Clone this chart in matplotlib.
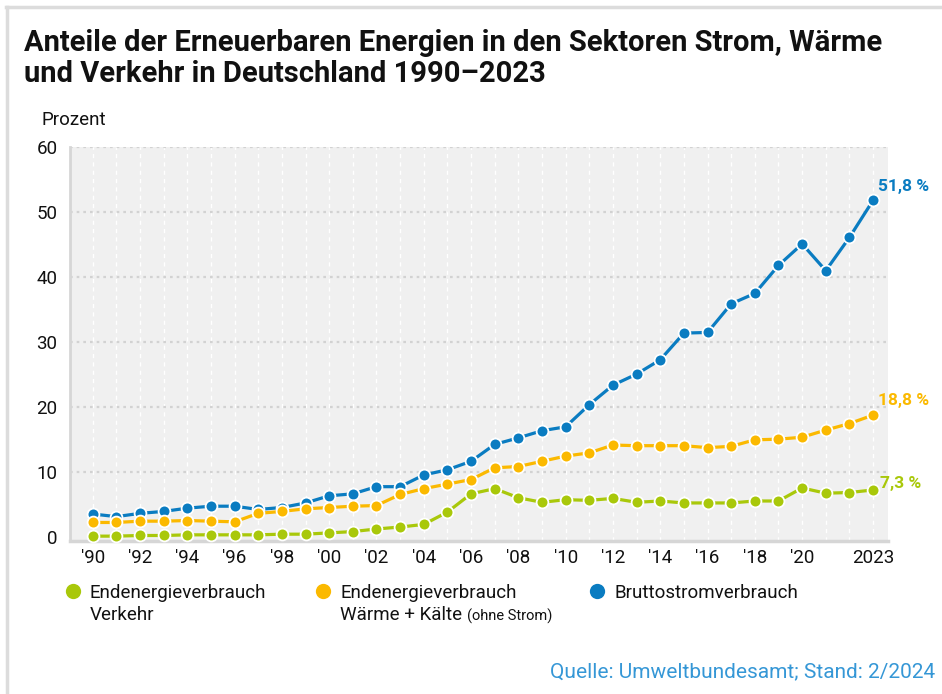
import matplotlib
matplotlib.use('Agg')
import matplotlib.pyplot as plt
from matplotlib.lines import Line2D

plt.rcParams['font.family'] = ['Roboto', 'DejaVu Sans']

# data
years = list(range(1990, 2024))
strom = [3.6, 3.2, 3.7, 4.0, 4.5, 4.8, 4.8, 4.3, 4.6, 5.3, 6.4, 6.7, 7.8, 7.8, 9.6, 10.4,
         11.7, 14.3, 15.3, 16.4, 17.0, 20.4, 23.4, 25.1, 27.3, 31.4, 31.5, 35.9, 37.5,
         41.8, 45.1, 41.0, 46.1, 51.8]
waerme = [2.3, 2.3, 2.5, 2.5, 2.6, 2.5, 2.4, 3.7, 4.0, 4.4, 4.6, 4.8, 4.9, 6.6, 7.5, 8.2,
          8.9, 10.7, 10.9, 11.7, 12.5, 13.0, 14.2, 14.1, 14.1, 14.1, 13.8, 14.0, 15.0,
          15.1, 15.4, 16.5, 17.5, 18.8]
verkehr = [0.2, 0.2, 0.3, 0.3, 0.4, 0.4, 0.4, 0.4, 0.5, 0.5, 0.7, 0.9, 1.3, 1.6, 2.0, 3.9,
           6.7, 7.5, 6.1, 5.4, 5.8, 5.7, 6.0, 5.4, 5.6, 5.3, 5.3, 5.3, 5.6, 5.6, 7.6, 6.8,
           6.9, 7.3]
end_labels = ['51,8 %', '18,8 %', '7,3 %']
xtick_pos = list(range(1990, 2021, 2)) + [2023]
xtick_lbl = ["'%02d" % (y % 100) for y in range(1990, 2021, 2)] + ['2023']

blue = '#0a7cc1'
orange = '#fbb900'
green = '#a9c80a'
txt = '#111111'

fig = plt.figure(figsize=(9.42, 6.94), dpi=100)

# light frame at top and left
fig.add_artist(Line2D([0.0075, 0.0075], [0, 0.99], transform=fig.transFigure, color='#dcdcdc', lw=2.5))
fig.add_artist(Line2D([0.006, 1.0], [0.99, 0.99], transform=fig.transFigure, color='#dcdcdc', lw=2.5))

ax = fig.add_axes([0.0743, 0.2209, 0.8681, 0.5673])
ax.set_facecolor('#f0f0f0')
ax.set_xlim(1989.04, 2023.62)
ax.set_ylim(-0.5, 60)

for y in years:
    ax.axvline(y, color='white', lw=1, ls=(0, (3, 3)), zorder=1)
for v in range(10, 61, 10):
    ax.axhline(v, color='#d2d2d2', lw=1.6, ls=(0, (1.2, 1.8)), zorder=1)

series = [(strom, blue), (waerme, orange), (verkehr, green)]
for vals, col in series:
    ax.plot(years, vals, color=col, lw=2.3, marker='o', markersize=8.5,
            markerfacecolor=col, markeredgecolor='white', markeredgewidth=1.3, zorder=3,
            clip_on=False)

ax.text(2023.2, strom[-1] + 2.2, end_labels[0], color=blue, fontsize=12.5, fontweight='bold', va='center', ha='left')
ax.text(2023.2, waerme[-1] + 2.2, end_labels[1], color=orange, fontsize=12.5, fontweight='bold', va='center', ha='left')
ax.text(2023.3, verkehr[-1] + 1.0, end_labels[2], color=green, fontsize=12.5, fontweight='bold', va='center', ha='left')

for s in ['top', 'right']:
    ax.spines[s].set_visible(False)
ax.spines['left'].set_color('#d6d6d6')
ax.spines['left'].set_linewidth(2)
ax.spines['bottom'].set_color('#d6d6d6')
ax.spines['bottom'].set_linewidth(2.5)

ax.set_yticks(range(0, 61, 10))
ax.set_xticks(xtick_pos)
ax.set_xticklabels(xtick_lbl)
ax.tick_params(axis='both', length=0, labelsize=13.5, colors=txt)
ax.tick_params(axis='y', pad=9)
ax.tick_params(axis='x', pad=6)

fig.text(0.026, 0.958, 'Anteile der Erneuerbaren Energien in den Sektoren Strom, Wärme\n'
         'und Verkehr in Deutschland 1990\u20132023', fontsize=21, fontweight='bold',
         va='top', ha='left', linespacing=1.15, color=txt)
fig.text(0.044, 0.827, 'Prozent', fontsize=13.5, va='center', ha='left', color=txt)

# legend below the chart
leg = [(0.0775, ['Endenergieverbrauch', 'Verkehr'], green),
       (0.343, ['Endenergieverbrauch', 'Wärme + Kälte'], orange),
       (0.634, ['Bruttostromverbrauch'], blue)]
base1 = 0.139
base2 = 0.106
legtexts = []
for xpos, lines, col in leg:
    fig.add_artist(Line2D([xpos], [0.148], transform=fig.transFigure, marker='o',
                          markersize=11, color=col, markeredgewidth=0))
    for i, ln in enumerate(lines):
        t = fig.text(xpos + 0.018, [base1, base2][i], ln, fontsize=13.5, va='baseline',
                     ha='left', color=txt)
        legtexts.append(t)

# small note after "Wärme + Kälte"
waerme_txt = legtexts[3]
fig.canvas.draw()
bb = waerme_txt.get_window_extent(renderer=fig.canvas.get_renderer())
fig.text(bb.x1 / fig.bbox.width + 0.005, base2, '(ohne Strom)', fontsize=10.5,
         va='baseline', ha='left', color=txt)

fig.text(0.993, 0.032, 'Quelle: Umweltbundesamt; Stand: 2/2024', fontsize=15,
         color='#3597d6', ha='right', va='center')

fig.savefig('out.png', dpi=100)
